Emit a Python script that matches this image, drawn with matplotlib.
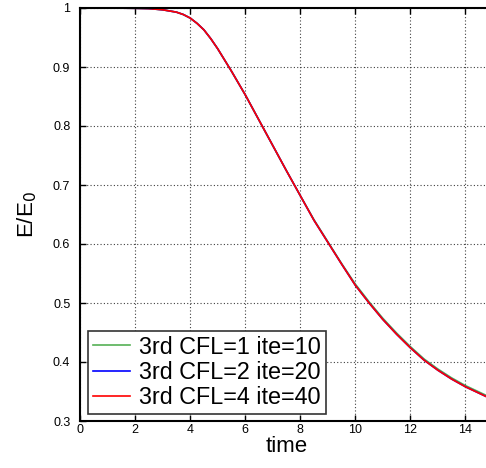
import matplotlib
matplotlib.use("Agg")
import matplotlib.pyplot as plt

plt.rcParams['font.family'] = ['Liberation Sans', 'DejaVu Sans']

# time axis and E/E0 for each run
time = [0, 1, 2, 2.5, 3, 3.25, 3.5, 3.75, 4, 4.25, 4.5, 4.75, 5, 5.5, 6, 6.5,
        7, 7.5, 8, 8.5, 9, 9.5, 10, 10.5, 11, 11.5, 12, 12.5, 13, 13.5, 14,
        14.5, 15]
e_cfl1 = [1.0, 1.0, 0.9995, 0.999, 0.997, 0.995, 0.993, 0.989, 0.983, 0.974,
          0.963, 0.948, 0.931, 0.893, 0.853, 0.810, 0.767, 0.724, 0.682,
          0.641, 0.604, 0.567, 0.532, 0.502, 0.474, 0.449, 0.426, 0.405,
          0.388, 0.373, 0.360, 0.349, 0.338]
e_cfl2 = [1.0, 1.0, 0.9995, 0.999, 0.997, 0.995, 0.993, 0.989, 0.983, 0.974,
          0.963, 0.948, 0.931, 0.893, 0.853, 0.810, 0.767, 0.724, 0.682,
          0.640, 0.603, 0.566, 0.530, 0.500, 0.472, 0.447, 0.424, 0.403,
          0.386, 0.371, 0.358, 0.347, 0.336]
e_cfl4 = [1.0, 1.0, 0.9995, 0.999, 0.997, 0.995, 0.993, 0.989, 0.983, 0.974,
          0.963, 0.948, 0.931, 0.893, 0.853, 0.810, 0.767, 0.724, 0.682,
          0.640, 0.603, 0.566, 0.530, 0.500, 0.472, 0.447, 0.424, 0.403,
          0.386, 0.371, 0.358, 0.347, 0.336]
labels = ["3rd CFL=1 ite=10", "3rd CFL=2 ite=20", "3rd CFL=4 ite=40"]
colors = ["#55b055", "blue", "red"]

xticks = [0, 2, 4, 6, 8, 10, 12, 14]
yticks = [0.3, 0.4, 0.5, 0.6, 0.7, 0.8, 0.9, 1.0]
yticklabels = ["0.3", "0.4", "0.5", "0.6", "0.7", "0.8", "0.9", "1"]

fig = plt.figure(figsize=(4.86, 4.68), dpi=100)
ax = fig.add_axes([80 / 486, 47 / 468, 413 / 486, 413 / 468])

for ys, lab, c in zip([e_cfl1, e_cfl2, e_cfl4], labels, colors):
    ax.plot(time, ys, color=c, linewidth=1.2, label=lab)

ax.set_xlim(0, 15)
ax.set_ylim(0.3, 1.0)
ax.set_xticks(xticks)
ax.set_yticks(yticks)
ax.set_yticklabels(yticklabels)
ax.grid(True, color='0.25', linestyle=(0, (1, 2)), linewidth=0.8)

ax.tick_params(direction='in', top=True, right=True, length=4, width=1,
               labelsize=9)
ax.tick_params(axis='x', pad=2)
ax.tick_params(axis='y', pad=7)
for sp in ax.spines.values():
    sp.set_linewidth(1.5)

ax.set_xlabel("time", fontsize=16, labelpad=0)
ax.set_ylabel("E/E$_0$", fontsize=16, labelpad=10)

leg = ax.legend(loc='lower left', bbox_to_anchor=(0.019, 0.017),
                borderaxespad=0, fontsize=16.8, fancybox=False,
                framealpha=1, edgecolor='0.2', handlelength=1.6,
                handletextpad=0.4, labelspacing=0.1, borderpad=0.2)
leg.get_frame().set_linewidth(1.2)

fig.savefig("out.png", dpi=100)
